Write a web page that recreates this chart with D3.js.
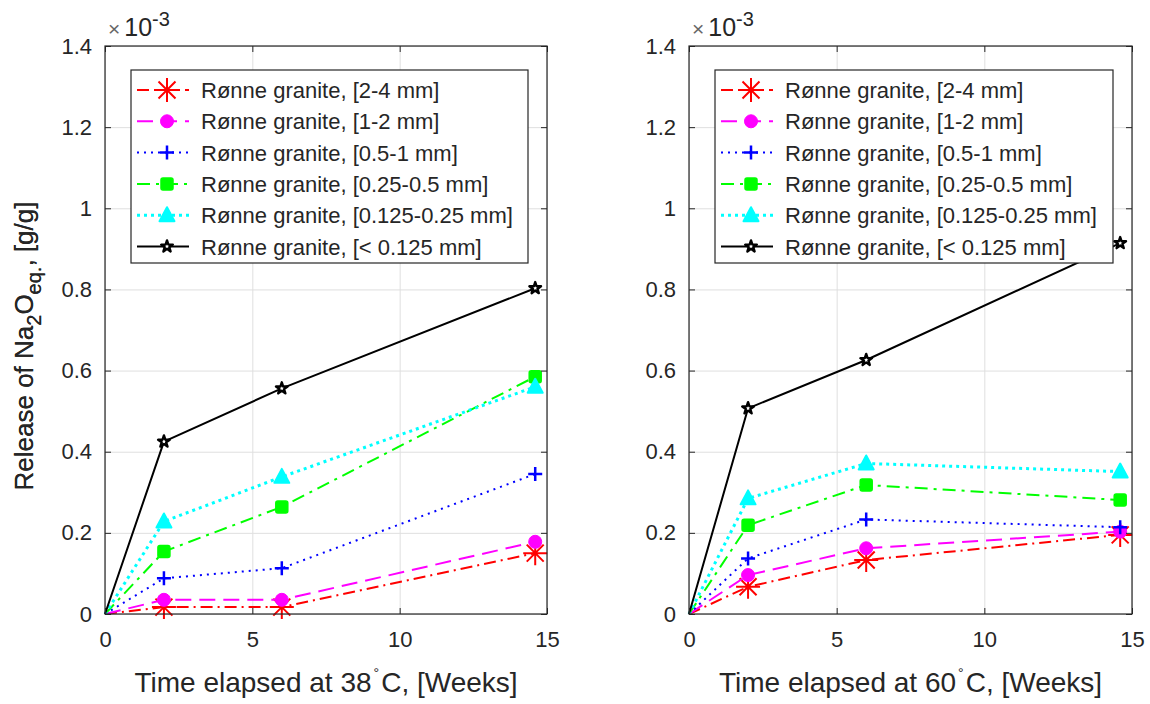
<!DOCTYPE html>
<html>
<head>
  <meta charset="utf-8">
  <title>Release of Na2O</title>
  <script src="https://cdn.jsdelivr.net/npm/d3@7"></script>
  <style>
    body { margin: 0; background: #fff; }
    text { font-family: "Liberation Sans", Arial, sans-serif; fill: #262626; }
  </style>
</head>
<body>
<div id="chart"></div>

<script>
  // data (values in 1e-3 g/g)
  const weeks = [0, 2, 6, 14.6];
  const seriesNames = [
    'Rønne granite, [2-4 mm]',
    'Rønne granite, [1-2 mm]',
    'Rønne granite, [0.5-1 mm]',
    'Rønne granite, [0.25-0.5 mm]',
    'Rønne granite, [0.125-0.25 mm]',
    'Rønne granite, [< 0.125 mm]'
  ];
  // 38 C
  const at38_2to4 = [0, 0.017, 0.017, 0.150];
  const at38_1to2 = [0, 0.035, 0.035, 0.178];
  const at38_05to1 = [0, 0.088, 0.113, 0.345];
  const at38_025to05 = [0, 0.154, 0.264, 0.585];
  const at38_0125to025 = [0, 0.228, 0.338, 0.560];
  const at38_lt0125 = [0, 0.425, 0.556, 0.803];
  // 60 C
  const at60_2to4 = [0, 0.067, 0.133, 0.195];
  const at60_1to2 = [0, 0.096, 0.162, 0.203];
  const at60_05to1 = [0, 0.137, 0.233, 0.214];
  const at60_025to05 = [0, 0.219, 0.318, 0.281];
  const at60_0125to025 = [0, 0.285, 0.371, 0.351];
  const at60_lt0125 = [0, 0.507, 0.626, 0.914];

  const xTicks = [0, 5, 10, 15];
  const yTicks = [0, 0.2, 0.4, 0.6, 0.8, 1, 1.2, 1.4];
  const panelTemps = ['38', '60'];

  // styles per series (MATLAB look)
  const styles = [
    {color: '#ff0000', dash: '12,5,2,5', width: 2, marker: 'asterisk'},
    {color: '#ff00ff', dash: '16,8', width: 2, marker: 'circle'},
    {color: '#0000ff', dash: '2,5', width: 2, marker: 'plus'},
    {color: '#00ff00', dash: '13,6,3,6', width: 2, marker: 'square'},
    {color: '#00ffff', dash: '3,4', width: 3, marker: 'triangle'},
    {color: '#000000', dash: null, width: 2, marker: 'star'}
  ];

  const W = 1150, H = 704;
  const panels = [
    {left: 105, right: 547, series: [at38_2to4, at38_1to2, at38_05to1, at38_025to05, at38_0125to025, at38_lt0125]},
    {left: 689, right: 1132, series: [at60_2to4, at60_1to2, at60_05to1, at60_025to05, at60_0125to025, at60_lt0125]}
  ];
  const axTop = 46, axBottom = 614;

  const svg = d3.select('#chart').append('svg')
      .attr('width', W).attr('height', H);

  function drawMarker(g, type, color) {
    if (type === 'asterisk') {
      const r = 12, d = r * Math.SQRT1_2;
      g.append('path')
        .attr('d', `M${-r},0L${r},0M0,${-r}L0,${r}M${-d},${-d}L${d},${d}M${-d},${d}L${d},${-d}`)
        .attr('stroke', color).attr('stroke-width', 2).attr('fill', 'none');
    } else if (type === 'plus') {
      const r = 7;
      g.append('path')
        .attr('d', `M${-r},0L${r},0M0,${-r}L0,${r}`)
        .attr('stroke', color).attr('stroke-width', 2.5).attr('fill', 'none');
    } else if (type === 'circle') {
      g.append('circle').attr('r', 6.5).attr('fill', color).attr('stroke', color);
    } else if (type === 'square') {
      g.append('rect').attr('x', -6).attr('y', -6).attr('width', 12).attr('height', 12)
        .attr('rx', 2).attr('fill', color).attr('stroke', color).attr('stroke-width', 1.5);
    } else if (type === 'triangle') {
      g.append('path').attr('d', 'M0,-8L7.5,6L-7.5,6Z')
        .attr('fill', color).attr('stroke', color).attr('stroke-width', 2).attr('stroke-linejoin', 'round');
    } else if (type === 'star') {
      g.append('path').attr('d', d3.symbol(d3.symbolStar, 42)())
        .attr('fill', '#fff').attr('stroke', color).attr('stroke-width', 2.4)
        .attr('stroke-linejoin', 'round');
    }
  }

  panels.forEach((p, pi) => {
    const w = p.right - p.left, h = axBottom - axTop;
    const x = d3.scaleLinear().domain([0, 15]).range([0, w]);
    const y = d3.scaleLinear().domain([0, 1.4]).range([h, 0]);

    const g = svg.append('g').attr('transform', `translate(${p.left},${axTop})`);

    // grid
    g.append('g').call(d3.axisBottom(x).tickValues(xTicks).tickSize(h).tickFormat(''))
      .call(a => a.select('.domain').remove())
      .call(a => a.selectAll('line').attr('stroke', '#dfdfdf'));
    g.append('g').call(d3.axisLeft(y).tickValues(yTicks).tickSize(-w).tickFormat(''))
      .call(a => a.select('.domain').remove())
      .call(a => a.selectAll('line').attr('stroke', '#dfdfdf'));

    // series (markers only at measured points, not at the origin)
    const line = d3.line().x((d, i) => x(weeks[i])).y(d => y(d));
    p.series.forEach((vals, si) => {
      const st = styles[si];
      g.append('path').datum(vals)
        .attr('d', line)
        .attr('fill', 'none')
        .attr('stroke', st.color)
        .attr('stroke-width', st.width)
        .attr('stroke-dasharray', st.dash)
        .attr('stroke-linejoin', 'round');
      vals.forEach((v, i) => {
        if (i === 0) return;
        const mg = g.append('g').attr('transform', `translate(${x(weeks[i])},${y(v)})`);
        drawMarker(mg, st.marker, st.color);
      });
    });

    // axes with inward ticks
    const axStyle = a => {
      a.select('.domain').remove();
      a.selectAll('line').attr('stroke', '#262626');
      a.selectAll('text').attr('font-size', '22px').attr('fill', '#262626')
        .style('font-family', '"Liberation Sans", Arial, sans-serif');
    };
    g.append('g').attr('transform', `translate(0,${h})`)
      .call(d3.axisBottom(x).tickValues(xTicks).tickSizeInner(-6).tickSizeOuter(0).tickPadding(17))
      .call(axStyle);
    g.append('g')
      .call(d3.axisTop(x).tickValues(xTicks).tickSizeInner(-6).tickSizeOuter(0).tickFormat(''))
      .call(axStyle);
    g.append('g')
      .call(d3.axisLeft(y).tickValues(yTicks).tickSizeInner(-6).tickSizeOuter(0).tickPadding(13)
        .tickFormat(d => String(+d.toFixed(1))))
      .call(axStyle);
    g.append('g').attr('transform', `translate(${w},0)`)
      .call(d3.axisRight(y).tickValues(yTicks).tickSizeInner(-6).tickSizeOuter(0).tickFormat(''))
      .call(axStyle);

    g.append('rect').attr('width', w).attr('height', h)
      .attr('fill', 'none').attr('stroke', '#262626').attr('stroke-width', 1.2);

    // exponent label
    const ex = g.append('text').attr('x', 3).attr('y', -10);
    ex.append('tspan').attr('font-size', '21px').attr('fill', '#666').text('×');
    ex.append('tspan').attr('dx', 4).attr('font-size', '25px').text('10');
    ex.append('tspan').attr('dy', -10).attr('font-size', '20px').text('-3');

    // x label
    const xl = g.append('text')
      .attr('x', w / 2).attr('y', h + 78)
      .attr('text-anchor', 'middle')
      .attr('font-size', '28px');
    xl.append('tspan').text(`Time elapsed at ${panelTemps[pi]}`);
    xl.append('tspan').attr('dx', 2).attr('dy', -14).attr('font-size', '14px').text('°');
    xl.append('tspan').attr('dx', 2).attr('dy', 14).text('C, [Weeks]');

    // y label
    const yl = g.append('text')
      .attr('transform', `translate(${-p.left + 33},${h / 2 + 16}) rotate(-90)`)
      .attr('text-anchor', 'middle')
      .attr('font-size', '26px');
    yl.append('tspan').text('Release of Na');
    yl.append('tspan').attr('dy', 8).attr('font-size', '20px').text('2');
    yl.append('tspan').attr('dy', -8).text('O');
    yl.append('tspan').attr('dy', 8).attr('font-size', '20px').text('eq.');
    yl.append('tspan').attr('dy', -8).text(', [g/g]');

    // legend
    const lgX = 26, lgY = 24, lgW = p.right - p.left - 45, rowH = 31.3;
    const lg = g.append('g').attr('transform', `translate(${lgX},${lgY})`);
    lg.append('rect').attr('width', lgW).attr('height', 193)
      .attr('fill', '#fff').attr('stroke', '#262626').attr('stroke-width', 1.2);
    seriesNames.forEach((name, si) => {
      const st = styles[si];
      const cy = 20 + si * rowH;
      lg.append('line')
        .attr('x1', 6).attr('x2', 58).attr('y1', cy).attr('y2', cy)
        .attr('stroke', st.color).attr('stroke-width', st.width)
        .attr('stroke-dasharray', st.dash);
      drawMarker(lg.append('g').attr('transform', `translate(36,${cy})`), st.marker, st.color);
      lg.append('text').attr('x', 70).attr('y', cy + 8)
        .attr('font-size', '22px').attr('fill', '#111').text(name);
    });
  });
</script>
</body>
</html>
